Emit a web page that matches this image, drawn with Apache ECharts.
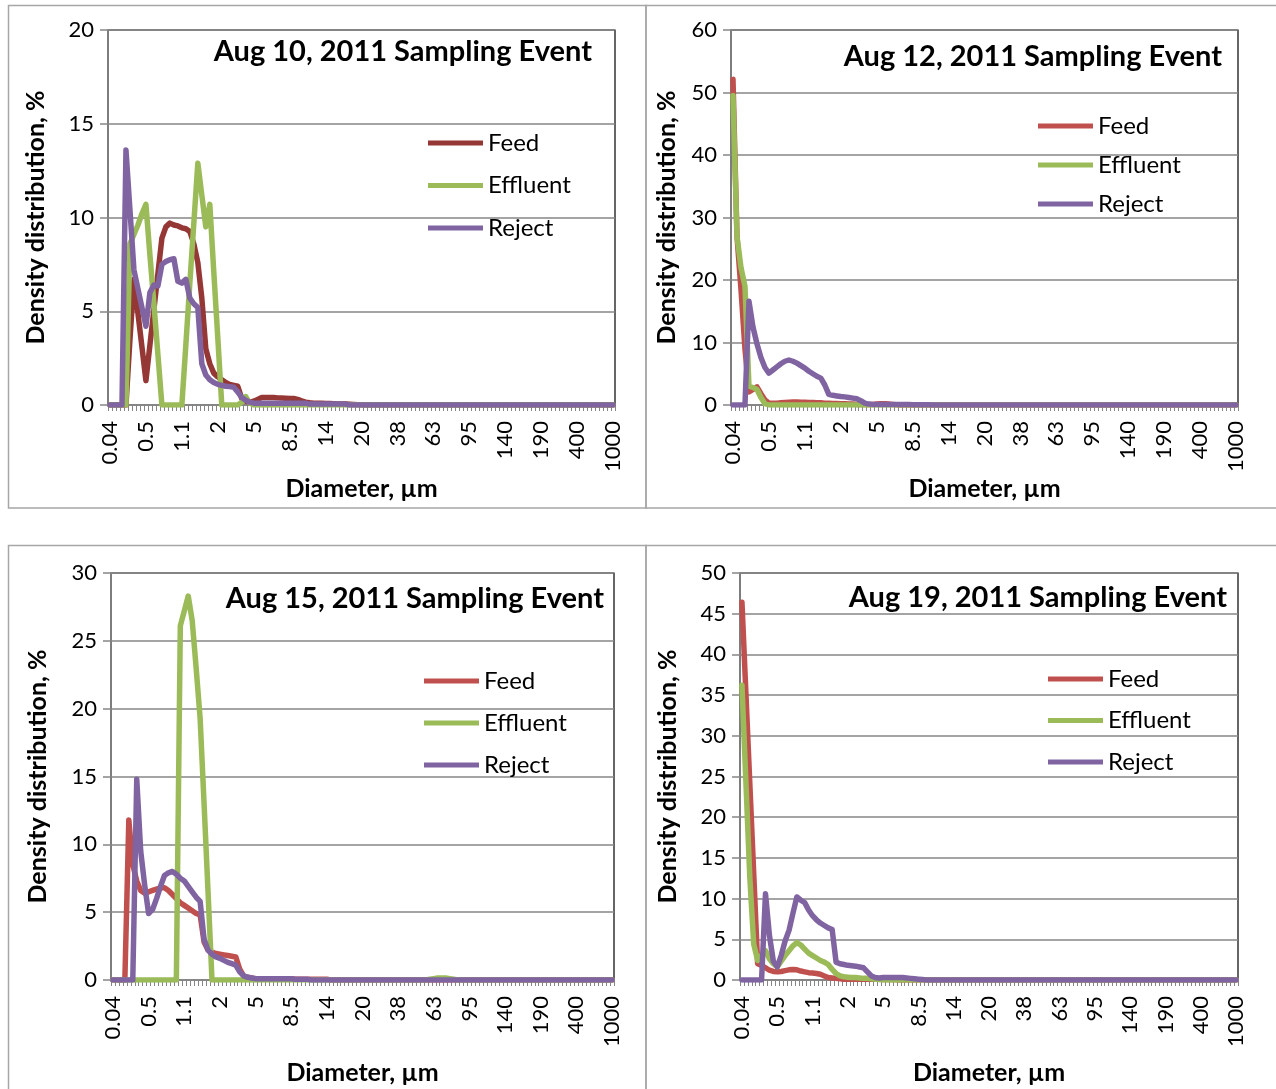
<!DOCTYPE html>
<html>
<head>
<meta charset="utf-8">
<script src="https://cdn.jsdelivr.net/npm/echarts@6/dist/echarts.min.js"></script>
<style>
  html, body { margin: 0; padding: 0; background: #ffffff; }
  #chart { width: 1276px; height: 1089px; }
</style>
</head>
<body>
<div id="chart"></div>
<script>
// Particle size bins (µm); every ninth bin carries a tick label
const diameters = [
  '0.04','0.05','0.07','0.09','0.12','0.16','0.22','0.3','0.4',
  '0.5','0.55','0.6','0.65','0.7','0.8','0.9','0.95','1',
  '1.1','1.2','1.3','1.4','1.5','1.6','1.7','1.8','1.9',
  '2','2.3','2.6','3','3.3','3.6','4','4.3','4.6',
  '5','5.4','5.8','6.2','6.6','7','7.4','7.8','8.2',
  '8.5','9','9.5','10','11','11.5','12','12.5','13',
  '14','14.5','15','16','16.5','17','18','18.5','19',
  '20','22','24','26','28','30','32','34','36',
  '38','41','44','47','50','53','56','59','61',
  '63','67','70','74','78','81','85','88','91',
  '95','100','105','110','115','120','125','130','135',
  '140','145','150','155','160','170','175','180','185',
  '190','210','230','250','275','300','325','350','375',
  '400','450','500','550','600','700','800','850','900',
  '1000'
];

const seriesNames = ['Feed', 'Effluent', 'Reject'];

// Aug 10, 2011 sampling event — density distribution, %
const feedAug10 = [
  0, 0, 0, 0, 0, 3.5, 6.7, 4.9, 3.1, 1.3,
  3.2, 5.1, 7.0, 8.9, 9.5, 9.7, 9.6, 9.55, 9.45, 9.4,
  9.25, 8.6, 7.6, 5.7, 3.0, 2.2, 1.7, 1.5, 1.35, 1.2,
  1.1, 1.05, 1.0, 0.35, 0.2, 0.15, 0.2, 0.3, 0.4, 0.4,
  0.4, 0.4, 0.38, 0.37, 0.36, 0.35, 0.35, 0.3, 0.22, 0.15,
  0.12, 0.1, 0.1, 0.1, 0.08, 0.08, 0.07, 0.06, 0.05, 0.05,
  0.04, 0.03, 0.02, 0.01, 0, 0, 0, 0, 0, 0,
  0, 0, 0, 0, 0, 0, 0, 0, 0, 0,
  0, 0, 0, 0, 0, 0, 0, 0, 0, 0,
  0, 0, 0, 0, 0, 0, 0, 0, 0, 0,
  0, 0, 0, 0, 0, 0, 0, 0, 0, 0,
  0, 0, 0, 0, 0, 0, 0, 0, 0, 0,
  0, 0, 0, 0, 0, 0, 0
];
const effluentAug10 = [
  0, 0, 0, 0, 0, 8.6, 9.1, 9.6, 10.2, 10.7,
  8.0, 5.4, 2.7, 0, 0, 0, 0, 0, 0, 3.2,
  6.5, 9.7, 12.9, 11.2, 9.5, 10.7, 7.1, 3.6, 0, 0,
  0, 0, 0, 0.15, 0.45, 0.1, 0, 0, 0, 0,
  0, 0, 0, 0, 0, 0, 0, 0, 0, 0,
  0, 0, 0, 0, 0, 0, 0, 0, 0, 0,
  0, 0, 0, 0, 0, 0, 0, 0, 0, 0,
  0, 0, 0, 0, 0, 0, 0, 0, 0, 0,
  0, 0, 0, 0, 0, 0, 0, 0, 0, 0,
  0, 0, 0, 0, 0, 0, 0, 0, 0, 0,
  0, 0, 0, 0, 0, 0, 0, 0, 0, 0,
  0, 0, 0, 0, 0, 0, 0, 0, 0, 0,
  0, 0, 0, 0, 0, 0, 0
];
const rejectAug10 = [
  0, 0, 0, 0, 13.6, 10.4, 7.2, 6.2, 5.2, 4.2,
  6.0, 6.4, 6.35, 7.5, 7.65, 7.75, 7.8, 6.6, 6.5, 6.7,
  5.7, 5.4, 5.2, 2.2, 1.6, 1.35, 1.2, 1.1, 1.05, 1.0,
  0.98, 0.95, 0.7, 0.4, 0.25, 0.15, 0.1, 0.1, 0.1, 0.1,
  0.1, 0.1, 0.1, 0.1, 0.1, 0.1, 0.1, 0.1, 0.1, 0.1,
  0.05, 0.05, 0.05, 0.05, 0.05, 0.05, 0.05, 0.05, 0.05, 0.05,
  0, 0, 0, 0, 0, 0, 0, 0, 0, 0,
  0, 0, 0, 0, 0, 0, 0, 0, 0, 0,
  0, 0, 0, 0, 0, 0, 0, 0, 0, 0,
  0, 0, 0, 0, 0, 0, 0, 0, 0, 0,
  0, 0, 0, 0, 0, 0, 0, 0, 0, 0,
  0, 0, 0, 0, 0, 0, 0, 0, 0, 0,
  0, 0, 0, 0, 0, 0, 0
];

// Aug 12, 2011 sampling event
const feedAug12 = [
  52.1, 27, 18.5, 9, 2.1, 2.5, 2.9, 1.8, 0.8, 0.3,
  0.3, 0.3, 0.35, 0.4, 0.45, 0.5, 0.5, 0.45, 0.45, 0.4,
  0.4, 0.35, 0.35, 0.3, 0.3, 0.25, 0.25, 0.2, 0.2, 0.15,
  0.15, 0.1, 0.1, 0.1, 0.1, 0.1, 0.15, 0.2, 0.2, 0.15,
  0.1, 0.05, 0, 0, 0, 0, 0, 0, 0, 0,
  0, 0, 0, 0, 0, 0, 0, 0, 0, 0,
  0, 0, 0, 0, 0, 0, 0, 0, 0, 0,
  0, 0, 0, 0, 0, 0, 0, 0, 0, 0,
  0, 0, 0, 0, 0, 0, 0, 0, 0, 0,
  0, 0, 0, 0, 0, 0, 0, 0, 0, 0,
  0, 0, 0, 0, 0, 0, 0, 0, 0, 0,
  0, 0, 0, 0, 0, 0, 0, 0, 0, 0,
  0, 0, 0, 0, 0, 0, 0
];
const effluentAug12 = [
  49.5, 27, 22, 19, 3.0, 2.8, 2.5, 1.2, 0.2, 0,
  0, 0, 0, 0, 0, 0, 0, 0, 0, 0,
  0, 0, 0, 0, 0, 0, 0, 0, 0, 0,
  0, 0, 0, 0, 0, 0, 0, 0, 0, 0,
  0, 0, 0, 0, 0, 0, 0, 0, 0, 0,
  0, 0, 0, 0, 0, 0, 0, 0, 0, 0,
  0, 0, 0, 0, 0, 0, 0, 0, 0, 0,
  0, 0, 0, 0, 0, 0, 0, 0, 0, 0,
  0, 0, 0, 0, 0, 0, 0, 0, 0, 0,
  0, 0, 0, 0, 0, 0, 0, 0, 0, 0,
  0, 0, 0, 0, 0, 0, 0, 0, 0, 0,
  0, 0, 0, 0, 0, 0, 0, 0, 0, 0,
  0, 0, 0, 0, 0, 0, 0
];
const rejectAug12 = [
  0, 0, 0, 0, 16.6, 12.5, 9.8, 7.6, 6.0, 5.1,
  5.6, 6.1, 6.6, 7.0, 7.2, 7.0, 6.7, 6.3, 5.9, 5.4,
  5.0, 4.6, 4.3, 3.2, 1.7, 1.55, 1.45, 1.35, 1.3, 1.2,
  1.1, 1.0, 0.7, 0.3, 0.15, 0.1, 0.1, 0.1, 0.1, 0.1,
  0.1, 0.1, 0.1, 0.1, 0.1, 0.05, 0.05, 0.05, 0.05, 0.05,
  0, 0, 0, 0, 0, 0, 0, 0, 0, 0,
  0, 0, 0, 0, 0, 0, 0, 0, 0, 0,
  0, 0, 0, 0, 0, 0, 0, 0, 0, 0,
  0, 0, 0, 0, 0, 0, 0, 0, 0, 0,
  0, 0, 0, 0, 0, 0, 0, 0, 0, 0,
  0, 0, 0, 0, 0, 0, 0, 0, 0, 0,
  0, 0, 0, 0, 0, 0, 0, 0, 0, 0,
  0, 0, 0, 0, 0, 0, 0
];

// Aug 15, 2011 sampling event
const feedAug15 = [
  0, 0, 0, 0, 11.8, 8.5, 7.3, 6.6, 6.4, 6.5,
  6.6, 6.7, 6.8, 6.8, 6.6, 6.3, 6.0, 5.7, 5.5, 5.3,
  5.1, 4.9, 4.8, 2.8, 2.2, 2.05, 1.95, 1.9, 1.85, 1.8,
  1.75, 1.7, 0.8, 0.3, 0.2, 0.15, 0.1, 0.1, 0.1, 0.1,
  0.1, 0.1, 0.1, 0.1, 0.1, 0.1, 0.05, 0.05, 0.05, 0.05,
  0.05, 0.05, 0.05, 0.05, 0.05, 0, 0, 0, 0, 0,
  0, 0, 0, 0, 0, 0, 0, 0, 0, 0,
  0, 0, 0, 0, 0, 0, 0, 0, 0, 0,
  0, 0, 0, 0, 0, 0, 0, 0, 0, 0,
  0, 0, 0, 0, 0, 0, 0, 0, 0, 0,
  0, 0, 0, 0, 0, 0, 0, 0, 0, 0,
  0, 0, 0, 0, 0, 0, 0, 0, 0, 0,
  0, 0, 0, 0, 0, 0, 0
];
const effluentAug15 = [
  0, 0, 0, 0, 0, 0, 0, 0, 0, 0,
  0, 0, 0, 0, 0, 0, 0, 26.1, 27.2, 28.3,
  26.5, 23.0, 19.3, 13.0, 6.5, 0, 0, 0, 0, 0,
  0, 0, 0, 0, 0, 0, 0, 0, 0, 0,
  0, 0, 0, 0, 0, 0, 0, 0, 0, 0,
  0, 0, 0, 0, 0, 0, 0, 0, 0, 0,
  0, 0, 0, 0, 0, 0, 0, 0, 0, 0,
  0, 0, 0, 0, 0, 0, 0, 0, 0, 0,
  0.05, 0.1, 0.15, 0.15, 0.15, 0.1, 0.05, 0, 0, 0,
  0, 0, 0, 0, 0, 0, 0, 0, 0, 0,
  0, 0, 0, 0, 0, 0, 0, 0, 0, 0,
  0, 0, 0, 0, 0, 0, 0, 0, 0, 0,
  0, 0, 0, 0, 0, 0, 0
];
const rejectAug15 = [
  0, 0, 0, 0, 0, 0, 14.8, 9.5, 7.0, 4.9,
  5.2, 6.0, 6.9, 7.7, 7.9, 8.0, 7.8, 7.5, 7.3, 6.9,
  6.5, 6.1, 5.8, 3.0, 2.2, 1.9, 1.7, 1.6, 1.45, 1.3,
  1.2, 1.1, 0.6, 0.3, 0.2, 0.15, 0.1, 0.1, 0.1, 0.1,
  0.1, 0.1, 0.1, 0.1, 0.1, 0.1, 0.05, 0.05, 0.05, 0.05,
  0, 0, 0, 0, 0, 0, 0, 0, 0, 0,
  0, 0, 0, 0, 0, 0, 0, 0, 0, 0,
  0, 0, 0, 0, 0, 0, 0, 0, 0, 0,
  0, 0, 0, 0, 0, 0, 0, 0, 0, 0,
  0, 0, 0, 0, 0, 0, 0, 0, 0, 0,
  0, 0, 0, 0, 0, 0, 0, 0, 0, 0,
  0, 0, 0, 0, 0, 0, 0, 0, 0, 0,
  0, 0, 0, 0, 0, 0, 0
];

// Aug 19, 2011 sampling event
const feedAug19 = [
  46.4, 35.3, 24.2, 13.1, 2.0, 1.8, 1.5, 1.2, 1.05, 1.0,
  1.05, 1.15, 1.25, 1.3, 1.25, 1.1, 1.0, 0.9, 0.85, 0.8,
  0.7, 0.5, 0.3, 0.25, 0.2, 0.15, 0.1, 0.1, 0.1, 0.1,
  0.1, 0.1, 0.1, 0.1, 0.1, 0.1, 0.05, 0.05, 0.05, 0.05,
  0, 0, 0, 0, 0, 0, 0, 0, 0, 0,
  0, 0, 0, 0, 0, 0, 0, 0, 0, 0,
  0, 0, 0, 0, 0, 0, 0, 0, 0, 0,
  0, 0, 0, 0, 0, 0, 0, 0, 0, 0,
  0, 0, 0, 0, 0, 0, 0, 0, 0, 0,
  0, 0, 0, 0, 0, 0, 0, 0, 0, 0,
  0, 0, 0, 0, 0, 0, 0, 0, 0, 0,
  0, 0, 0, 0, 0, 0, 0, 0, 0, 0,
  0, 0, 0, 0, 0, 0, 0
];
const effluentAug19 = [
  36.2, 24.4, 12.6, 4.4, 2.4, 3.0, 3.6, 2.6, 2.0, 1.6,
  2.3, 3.0, 3.6, 4.2, 4.6, 4.3, 3.8, 3.3, 3.0, 2.7,
  2.4, 2.2, 1.9, 1.3, 0.8, 0.5, 0.4, 0.35, 0.3, 0.3,
  0.25, 0.2, 0.2, 0.15, 0.1, 0.05, 0, 0, 0, 0,
  0, 0, 0, 0, 0, 0, 0, 0, 0, 0,
  0, 0, 0, 0, 0, 0, 0, 0, 0, 0,
  0, 0, 0, 0, 0, 0, 0, 0, 0, 0,
  0, 0, 0, 0, 0, 0, 0, 0, 0, 0,
  0, 0, 0, 0, 0, 0, 0, 0, 0, 0,
  0, 0, 0, 0, 0, 0, 0, 0, 0, 0,
  0, 0, 0, 0, 0, 0, 0, 0, 0, 0,
  0, 0, 0, 0, 0, 0, 0, 0, 0, 0,
  0, 0, 0, 0, 0, 0, 0
];
const rejectAug19 = [
  0, 0, 0, 0, 0, 0, 10.6, 5.5, 2.3, 1.6,
  3.0, 4.8, 6.1, 8.2, 10.2, 9.8, 9.5, 8.6, 7.9, 7.4,
  7.0, 6.7, 6.4, 6.2, 2.2, 2.0, 1.9, 1.8, 1.75, 1.7,
  1.6, 1.5, 1.0, 0.5, 0.3, 0.25, 0.3, 0.3, 0.3, 0.3,
  0.3, 0.3, 0.25, 0.2, 0.15, 0.1, 0.05, 0, 0, 0,
  0, 0, 0, 0, 0, 0, 0, 0, 0, 0,
  0, 0, 0, 0, 0, 0, 0, 0, 0, 0,
  0, 0, 0, 0, 0, 0, 0, 0, 0, 0,
  0, 0, 0, 0, 0, 0, 0, 0, 0, 0,
  0, 0, 0, 0, 0, 0, 0, 0, 0, 0,
  0, 0, 0, 0, 0, 0, 0, 0, 0, 0,
  0, 0, 0, 0, 0, 0, 0, 0, 0, 0,
  0, 0, 0, 0, 0, 0, 0
];

const FONT = 'Lato';
const AXIS_GREY = '#868686';
const EFFLUENT_COLOR = '#9BBB59';
const REJECT_COLOR = '#8064A2';

// Panel layout: plot rectangle, scale, title and legend placement
const panels = [
  { title: 'Aug 10, 2011 Sampling Event', grid: { left: 108, top: 30, width: 507, height: 375 },
    yMax: 20, yStep: 5, feedColor: '#953735', values: [feedAug10, effluentAug10, rejectAug10],
    titleRight: 684, titleTop: 37, legendLeft: 428, legendTop: 131, legendGap: 18.5,
    yNameGap: 60, xNameGap: 71 },
  { title: 'Aug 12, 2011 Sampling Event', grid: { left: 731, top: 30, width: 507, height: 375 },
    yMax: 60, yStep: 10, feedColor: '#C0504D', values: [feedAug12, effluentAug12, rejectAug12],
    titleRight: 54, titleTop: 42, legendLeft: 1038, legendTop: 114, legendGap: 15,
    yNameGap: 52, xNameGap: 71 },
  { title: 'Aug 15, 2011 Sampling Event', grid: { left: 111, top: 573, width: 503, height: 407 },
    yMax: 30, yStep: 5, feedColor: '#C0504D', values: [feedAug15, effluentAug15, rejectAug15],
    titleRight: 672, titleTop: 584, legendLeft: 424, legendTop: 669, legendGap: 18,
    yNameGap: 61, xNameGap: 80 },
  { title: 'Aug 19, 2011 Sampling Event', grid: { left: 740, top: 573, width: 498, height: 407 },
    yMax: 50, yStep: 5, feedColor: '#C0504D', values: [feedAug19, effluentAug19, rejectAug19],
    titleRight: 49, titleTop: 583, legendLeft: 1048, legendTop: 667, legendGap: 17.5,
    yNameGap: 60, xNameGap: 80 }
];

const option = {
  animation: false,
  backgroundColor: '#ffffff',
  textStyle: { fontFamily: FONT },
  title: [], legend: [], grid: [], xAxis: [], yAxis: [], series: [],
  graphic: [
    // panel frames
    { type: 'rect', shape: { x: 8.5, y: 5.5, width: 637.5, height: 502.5 }, style: { fill: 'none', stroke: '#a6a6a6', lineWidth: 1.5 }, silent: true },
    { type: 'rect', shape: { x: 646, y: 5.5, width: 640, height: 502.5 }, style: { fill: 'none', stroke: '#a6a6a6', lineWidth: 1.5 }, silent: true },
    { type: 'rect', shape: { x: 8.5, y: 545.5, width: 637.5, height: 600 }, style: { fill: 'none', stroke: '#a6a6a6', lineWidth: 1.5 }, silent: true },
    { type: 'rect', shape: { x: 646, y: 545.5, width: 640, height: 600 }, style: { fill: 'none', stroke: '#a6a6a6', lineWidth: 1.5 }, silent: true }
  ]
};

panels.forEach(function (p, k) {
  const colors = [p.feedColor, EFFLUENT_COLOR, REJECT_COLOR];

  option.title.push({
    text: p.title, right: p.titleRight, top: p.titleTop, padding: 0,
    textStyle: { fontFamily: FONT, fontSize: 29, fontWeight: 'bold', color: '#000' }
  });

  option.legend.push({
    orient: 'vertical', left: p.legendLeft, top: p.legendTop, padding: 0,
    itemGap: p.legendGap, itemWidth: 55, itemHeight: 5, icon: 'rect',
    textStyle: { fontFamily: FONT, fontSize: 24, color: '#000', lineHeight: 24 },
    data: seriesNames.map(function (n, j) { return { name: n, itemStyle: { color: colors[j] } }; })
  });

  option.grid.push(Object.assign({
    show: true, borderColor: '#000', borderWidth: 1.2, backgroundColor: 'transparent', containLabel: false
  }, p.grid));

  option.xAxis.push({
    type: 'category', gridIndex: k, data: diameters, boundaryGap: true,
    name: 'Diameter, µm', nameLocation: 'middle', nameGap: p.xNameGap,
    nameTextStyle: { fontFamily: FONT, fontSize: 25, fontWeight: 'bold', color: '#000' },
    axisLine: { show: true, lineStyle: { color: AXIS_GREY, width: 1.5 } },
    axisTick: { show: true, interval: 0, length: 6, lineStyle: { color: AXIS_GREY, width: 1 } },
    axisLabel: { interval: 8, rotate: 90, margin: 16, fontFamily: FONT, fontSize: 22, color: '#000' },
    splitLine: { show: false }
  });

  option.yAxis.push({
    type: 'value', gridIndex: k, min: 0, max: p.yMax, interval: p.yStep,
    name: 'Density distribution, %', nameLocation: 'middle', nameRotate: 90, nameGap: p.yNameGap,
    nameTextStyle: { fontFamily: FONT, fontSize: 25, fontWeight: 'bold', color: '#000' },
    axisLine: { show: true, lineStyle: { color: AXIS_GREY, width: 1.5 } },
    axisTick: { show: true, length: 8, lineStyle: { color: AXIS_GREY, width: 1.5 } },
    axisLabel: { margin: 14, fontFamily: FONT, fontSize: 22, color: '#000' },
    splitLine: { show: true, lineStyle: { color: AXIS_GREY, width: 1.5 } }
  });

  seriesNames.forEach(function (n, j) {
    option.series.push({
      type: 'line', name: n, xAxisIndex: k, yAxisIndex: k,
      data: p.values[j], showSymbol: false, symbol: 'none',
      color: colors[j],
      lineStyle: { color: colors[j], width: 5.5, join: 'round', cap: 'round' }
    });
  });
});

const chart = echarts.init(document.getElementById('chart'), null, { renderer: 'canvas' });
chart.setOption(option);
</script>
</body>
</html>
